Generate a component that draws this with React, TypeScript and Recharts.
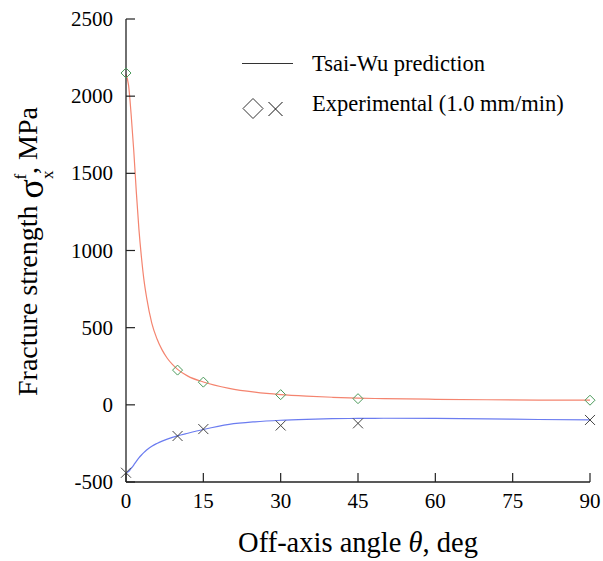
import React from "react";
import {
  ComposedChart, Line, Scatter, XAxis, YAxis, Legend,
} from "recharts";

// off-axis angle, deg
const angleTicks = [0, 15, 30, 45, 60, 75, 90];
const strengthTicks = [-500, 0, 500, 1000, 1500, 2000, 2500];

// experimental points (1.0 mm/min)
const expAngles = [0, 10, 15, 30, 45, 90];
const expTension = [2150, 225, 147, 66, 40, 30];
const expCompression = [-440, -202, -157, -134, -120, -98];

// Tsai-Wu prediction
const curveAngles = [0, 0.5, 1, 1.5, 2, 2.5, 3, 3.5, 4, 5, 6, 7, 8, 9, 10, 12, 15, 20, 25, 30, 35, 40, 45, 50, 60, 70, 80, 90];
const tsaiWuTension = [2140, 2070, 1880, 1650, 1380, 1140, 955, 805, 695, 530, 428, 356, 302, 262, 230, 186, 148, 107, 82, 66, 56, 49, 43, 40, 36, 33, 31, 30];
const tsaiWuCompression = [-440, -432, -412, -390, -366, -344, -325, -308, -293, -268, -250, -235, -222, -211, -201, -184, -160, -127, -110, -100, -94, -90, -88, -87, -88, -91, -95, -98];

const toPoints = (xs: number[], ys: number[]) => xs.map((x, i) => ({ x, y: ys[i] }));

const FONT = "'Liberation Serif', 'Times New Roman', serif";
const AXIS = "#222";
const TICK_LEN = 9;

function Diamond({ cx, cy, r = 5, stroke = "#4a9a5a" }: any) {
  return (
    <polygon
      points={`${cx},${cy - r} ${cx + r},${cy} ${cx},${cy + r} ${cx - r},${cy}`}
      fill="none" stroke={stroke} strokeWidth={1}
    />
  );
}

function Cross({ cx, cy, r = 5, stroke = "#444" }: any) {
  return (
    <g stroke={stroke} strokeWidth={1}>
      <line x1={cx - r} y1={cy - r} x2={cx + r} y2={cy + r} />
      <line x1={cx - r} y1={cy + r} x2={cx + r} y2={cy - r} />
    </g>
  );
}

function BottomTick({ x, y, payload }: any) {
  return (
    <g>
      <line x1={x} y1={y} x2={x} y2={y - TICK_LEN} stroke={AXIS} strokeWidth={1.2} />
      <text x={x} y={y + 26} textAnchor="middle" fontFamily={FONT} fontSize={21} fill="#000">
        {payload.value}
      </text>
    </g>
  );
}

function TopTick({ x, y }: any) {
  return <line x1={x} y1={y} x2={x} y2={y + TICK_LEN} stroke={AXIS} strokeWidth={1.2} />;
}

function LeftTick({ x, y, payload }: any) {
  return (
    <g>
      <line x1={x} y1={y} x2={x + TICK_LEN} y2={y} stroke={AXIS} strokeWidth={1.2} />
      <text x={x - 13} y={y + 7} textAnchor="end" fontFamily={FONT} fontSize={21} fill="#000">
        {payload.value}
      </text>
    </g>
  );
}

function RightTick({ x, y }: any) {
  return <line x1={x} y1={y} x2={x - TICK_LEN} y2={y} stroke={AXIS} strokeWidth={1.2} />;
}

function XLabel() {
  return (
    <text x={358} y={552} textAnchor="middle" fontFamily={FONT} fontSize={28.5} fill="#000">
      Off-axis angle <tspan fontStyle="italic">θ</tspan>, deg
    </text>
  );
}

function YLabel() {
  return (
    <g transform="translate(37,250) rotate(-90)">
      <text x={-146} y={0} fontFamily={FONT} fontSize={28} fill="#000">
        Fracture strength{" "}
        <tspan fontSize={36} dy={6}>σ</tspan>
        <tspan fontSize={17} dy={10}>x</tspan>
        <tspan fontSize={17} dx={-9} dy={-27}>f</tspan>
        <tspan fontSize={28} dy={11}>, MPa</tspan>
      </text>
    </g>
  );
}

function LegendBox() {
  return (
    <svg width={370} height={90} style={{ overflow: "visible" }}>
      <line x1={12} y1={23.5} x2={63} y2={23.5} stroke="#333" strokeWidth={1.2} />
      <text x={82} y={31} fontFamily={FONT} fontSize={22.5} fill="#000">Tsai-Wu prediction</text>
      <Diamond cx={23} cy={68.5} r={10} stroke="#333" />
      <Cross cx={45.5} cy={69} r={7} stroke="#111" />
      <text x={82} y={71} fontFamily={FONT} fontSize={22.5} fill="#000">Experimental (1.0 mm/min)</text>
    </svg>
  );
}

export default function App() {
  return (
    <div style={{ position: "absolute", left: 0, top: 0, background: "#fff" }}>
      <ComposedChart width={603} height={561} margin={{ top: 19, right: 13, bottom: 0, left: 0 }}>
        <XAxis
          xAxisId="bottom" type="number" dataKey="x" domain={[0, 90]} ticks={angleTicks}
          interval={0} height={79} tickSize={0} tickMargin={0} tickLine={false}
          axisLine={{ stroke: AXIS, strokeWidth: 1.3 }} tick={<BottomTick />}
          label={<XLabel />}
        />
        <XAxis
          xAxisId="top" orientation="top" type="number" domain={[0, 90]} ticks={angleTicks}
          interval={0} height={0} tickSize={0} tickMargin={0} tickLine={false}
          axisLine={{ stroke: AXIS, strokeWidth: 1.3 }} tick={<TopTick />}
        />
        <YAxis
          yAxisId="left" type="number" domain={[-500, 2500]} ticks={strengthTicks}
          interval={0} width={126} tickSize={0} tickMargin={0} tickLine={false}
          axisLine={{ stroke: AXIS, strokeWidth: 1.3 }} tick={<LeftTick />}
          label={<YLabel />}
        />
        <YAxis
          yAxisId="right" orientation="right" type="number" domain={[-500, 2500]} ticks={strengthTicks}
          interval={0} width={0} tickSize={0} tickMargin={0} tickLine={false}
          axisLine={{ stroke: AXIS, strokeWidth: 1.3 }} tick={<RightTick />}
        />
        <Legend
          layout="vertical" align="center" verticalAlign="middle"
          wrapperStyle={{ position: "absolute", left: 230, top: 40, width: 370 }}
          content={<LegendBox />}
        />
        <Line
          xAxisId="bottom" yAxisId="left" data={toPoints(curveAngles, tsaiWuTension)}
          dataKey="y" type="monotone" stroke="#f4846f" strokeWidth={1.2} dot={false}
          isAnimationActive={false} name="Tsai-Wu tension"
        />
        <Line
          xAxisId="bottom" yAxisId="left" data={toPoints(curveAngles, tsaiWuCompression)}
          dataKey="y" type="monotone" stroke="#6b7cf0" strokeWidth={1.2} dot={false}
          isAnimationActive={false} name="Tsai-Wu compression"
        />
        <Scatter
          xAxisId="bottom" yAxisId="left" data={toPoints(expAngles, expTension)}
          dataKey="y" shape={(p: any) => <Diamond cx={p.cx} cy={p.cy} />}
          isAnimationActive={false} name="Experimental tension"
        />
        <Scatter
          xAxisId="bottom" yAxisId="left" data={toPoints(expAngles, expCompression)}
          dataKey="y" shape={(p: any) => <Cross cx={p.cx} cy={p.cy} />}
          isAnimationActive={false} name="Experimental compression"
        />
      </ComposedChart>
    </div>
  );
}
